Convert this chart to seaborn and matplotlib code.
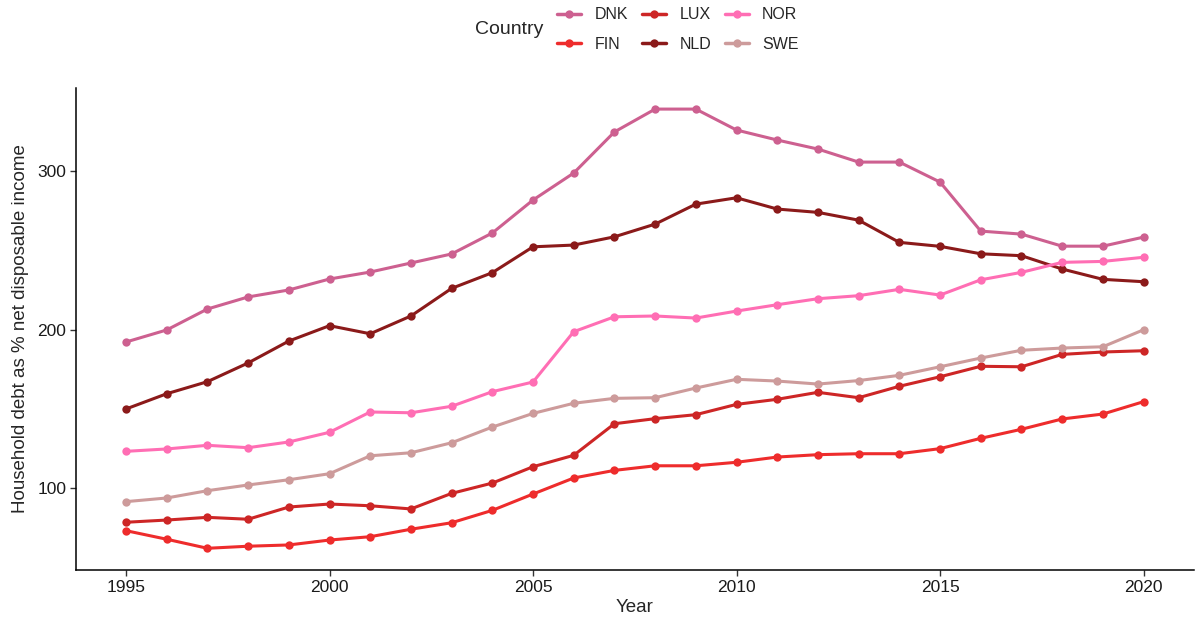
import numpy as np
import pandas as pd
import seaborn as sns
import matplotlib.pyplot as plt

years = list(range(1995, 2021))

dnk = [192.2, 199.8, 213.0, 220.6, 225.0, 231.9, 236.3, 242.0, 247.7, 260.9,
       281.7, 298.7, 324.6, 339.0, 339.0, 325.8, 319.5, 313.8, 305.6, 305.6,
       293.0, 262.1, 260.2, 252.6, 252.6, 258.3]
fin = [73.3, 67.9, 62.2, 63.5, 64.3, 67.4, 69.5, 74.2, 78.3, 86.1,
       96.4, 106.5, 111.3, 114.2, 114.2, 116.4, 119.7, 121.2, 121.8, 121.8,
       125.0, 131.5, 137.2, 143.7, 146.8, 154.6]
lux = [78.6, 80.0, 81.7, 80.5, 88.2, 90.1, 89.0, 87.0, 96.8, 103.3,
       113.6, 120.8, 140.7, 143.9, 146.4, 152.9, 156.1, 160.5, 157.1, 164.3,
       170.3, 176.9, 176.6, 184.4, 185.9, 186.7]
nld = [150.0, 159.6, 167.2, 179.0, 192.8, 202.5, 197.4, 208.6, 226.0, 235.9,
       252.2, 253.3, 258.5, 266.5, 279.1, 283.1, 276.0, 273.9, 269.0, 255.0,
       252.5, 247.8, 246.6, 238.2, 231.7, 230.2]
nor = [123.3, 124.8, 127.1, 125.6, 129.2, 135.3, 148.1, 147.6, 151.7, 160.9,
       167.0, 198.7, 208.1, 208.6, 207.3, 211.7, 215.7, 219.5, 221.4, 225.4,
       221.8, 231.4, 236.1, 242.4, 243.0, 245.6]
swe = [91.6, 93.9, 98.5, 102.1, 105.4, 109.2, 120.5, 122.4, 128.7, 138.6,
       147.2, 153.6, 156.7, 157.1, 163.2, 168.7, 167.6, 165.7, 167.9, 171.2,
       176.6, 182.1, 187.0, 188.4, 189.2, 199.9]

countries = ["DNK", "FIN", "LUX", "NLD", "NOR", "SWE"]
colors = ["#CD6090", "#EE2C2C", "#CD2626", "#8B1A1A", "#FF6EB4", "#CD9B9B"]

frames = []
for name, vals in zip(countries, [dnk, fin, lux, nld, nor, swe]):
    frames.append(pd.DataFrame({"Year": years, "Debt": vals, "Country": name}))
df = pd.concat(frames, ignore_index=True)

sns.set_style("white")
plt.rcParams['font.family'] = ['Liberation Sans', 'DejaVu Sans']

fig = plt.figure(figsize=(11.96, 6.24), dpi=100)
ax = fig.add_axes([0.0635, 0.0865, 0.9345, 0.7725])

sns.lineplot(data=df, x="Year", y="Debt", hue="Country", hue_order=countries,
             palette=dict(zip(countries, colors)), marker="o", markersize=6,
             markeredgewidth=0, linewidth=2.2, ax=ax, legend=False)

ax.set_xlim(1993.77, 2021.23)
ax.set_ylim(48.5, 352.3)
ax.set_xticks([1995, 2000, 2005, 2010, 2015, 2020])
ax.set_yticks([100, 200, 300])
ax.tick_params(axis="both", labelsize=12.5, colors="#333333", labelcolor="#1A1A1A",
               length=4, width=1, direction="out", bottom=True, left=True, pad=3)
for side in ["top", "right"]:
    ax.spines[side].set_visible(False)
for side in ["left", "bottom"]:
    ax.spines[side].set_color("black")
    ax.spines[side].set_linewidth(1.1)
ax.set_xlabel("Year", fontsize=13.5, labelpad=3)
ax.set_ylabel("Household debt as % net disposable income", fontsize=13.5, labelpad=6)

handles = [plt.Line2D([], [], color=c, linewidth=2.5, marker="o", markersize=6,
                      markeredgewidth=0) for c in colors]
fig.legend(handles, countries, ncol=3, loc="center left", bbox_to_anchor=(0.4605, 0.953),
           frameon=False, fontsize=11.5, handlelength=1.5, columnspacing=0.85,
           labelspacing=0.9, handletextpad=0.85, borderaxespad=0)
fig.text(0.397, 0.952, "Country", fontsize=14, va="center", ha="left")

fig.savefig("out.png", dpi=100)
